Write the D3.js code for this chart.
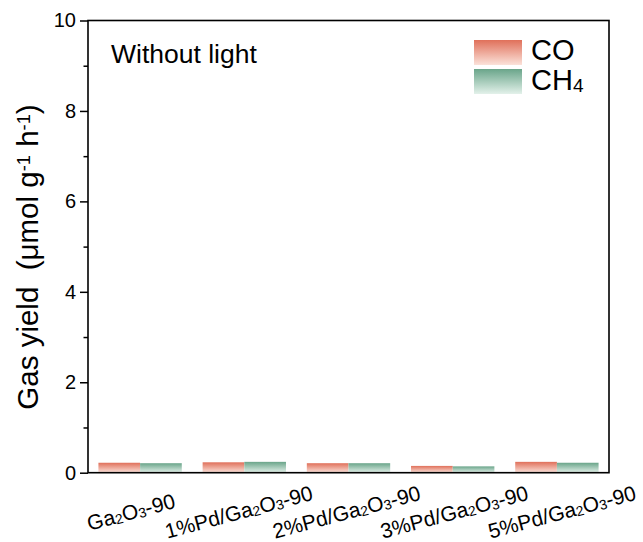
<!DOCTYPE html>
<html><head><meta charset="utf-8">
<script src="https://cdn.jsdelivr.net/npm/d3@7/dist/d3.min.js"></script>
<style>body{margin:0;background:#fff}svg{display:block}text{font-family:"Liberation Sans",Arial,sans-serif;fill:#000}</style>
</head><body>
<svg id="c" width="643" height="542"></svg>
<script>
const categories = ["Ga₂O₃-90","1%Pd/Ga₂O₃-90","2%Pd/Ga₂O₃-90","3%Pd/Ga₂O₃-90","5%Pd/Ga₂O₃-90"];
const seriesNames = ["CO","CH₄"];
const coValues = [0.22,0.23,0.21,0.15,0.24];
const ch4Values = [0.21,0.24,0.21,0.14,0.22];
const majorTicks = [0,2,4,6,8,10];
const minorTicks = [1,3,5,7,9];
const annotation = "Without light";
const yTitle = "Gas yield\u00a0\u00a0(μmol g⁻¹ h⁻¹)";

const svg = d3.select("#c");
const L=88,R=609,T=20.5,B=472.7;
const x = d3.scaleBand().domain(categories).range([L,R]).paddingInner(0.2).paddingOuter(0.1);
const xs = d3.scaleBand().domain(seriesNames).range([0,x.bandwidth()]);
const y = d3.scaleLinear().domain([0,10]).range([B,T]);
const xLab = d3.scalePoint().domain(categories).range([131,562]);

const defs = svg.append("defs");
const grads = [["gCO","#e0705a","#fbe2da"],["gCH4","#6aa58a","#e3f1ea"]];
grads.forEach(([id,c1,c2])=>{
  const g=defs.append("linearGradient").attr("id",id).attr("x1",0).attr("x2",0).attr("y1",0).attr("y2",1);
  g.append("stop").attr("offset","0%").attr("stop-color",c1);
  g.append("stop").attr("offset","100%").attr("stop-color",c2);
});
const fills = ["url(#gCO)","url(#gCH4)"];

function richText(sel, str, size, subScale){
  subScale = subScale||0.62;
  const subMap={"₀":"0","₁":"1","₂":"2","₃":"3","₄":"4"};
  const supMap={"⁻":"-","¹":"1"};
  let buf="", mode="n";
  const flush=()=>{ if(!buf) return;
    const t=sel.append("tspan").text(buf);
    if(mode==="sub"){t.attr("font-size",size*subScale).attr("baseline-shift","-10%");}
    if(mode==="sup"){t.attr("font-size",size*0.62).attr("baseline-shift","45%");}
    buf="";};
  for(const ch of str){
    let m="n", c=ch;
    if(subMap[ch]!==undefined){m="sub";c=subMap[ch];}
    else if(supMap[ch]!==undefined){m="sup";c=supMap[ch];}
    if(m!==mode){flush();mode=m;}
    buf+=c;
  }
  flush();
}

// bars
const data = categories.map((c,i)=>({c, vals:[coValues[i],ch4Values[i]]}));
const grp = svg.append("g").selectAll("g").data(data).join("g").attr("transform",d=>`translate(${x(d.c)},0)`);
grp.selectAll("rect").data(d=>d.vals.map((v,j)=>({v,j}))).join("rect")
  .attr("x",d=>xs(seriesNames[d.j])).attr("width",xs.bandwidth())
  .attr("y",d=>y(d.v)).attr("height",d=>y(0)-y(d.v))
  .attr("fill",d=>fills[d.j]);

// frame
svg.append("rect").attr("x",L).attr("y",T).attr("width",R-L).attr("height",B-T)
  .attr("fill","none").attr("stroke","#000").attr("stroke-width",1.6);

// y axis
const ya = svg.append("g").attr("transform",`translate(${L},0)`)
  .call(d3.axisLeft(y).tickValues(majorTicks).tickSize(8).tickPadding(4).tickFormat(d3.format("d")));
ya.select(".domain").remove();
ya.selectAll("line").attr("stroke","#000").attr("stroke-width",1.5);
ya.selectAll("text").attr("font-size",20).attr("font-family","Liberation Sans, Arial, sans-serif");
const ym = svg.append("g").attr("transform",`translate(${L},0)`)
  .call(d3.axisLeft(y).tickValues(minorTicks).tickSize(4.5).tickFormat(""));
ym.select(".domain").remove();
ym.selectAll("line").attr("stroke","#000").attr("stroke-width",1.5);

// x labels
categories.forEach(c=>{
  const t = svg.append("text").attr("transform",`translate(${xLab(c)},512) rotate(-15)`)
    .attr("text-anchor","middle").attr("dy","0.35em").attr("font-size",21);
  richText(t,c,21,0.66);
});

// y title
const yt = svg.append("text").attr("transform",`translate(38,257) rotate(-90)`)
  .attr("text-anchor","middle").attr("font-size",29.5);
richText(yt,yTitle,29.5);

// annotation
svg.append("text").attr("x",111).attr("y",63).attr("font-size",26.5).text(annotation);

// legend
seriesNames.forEach((s,i)=>{
  svg.append("rect").attr("x",474).attr("y",40+i*29).attr("width",48).attr("height",25).attr("fill",fills[i]);
  const t=svg.append("text").attr("x",531).attr("y",60+i*30).attr("font-size",29);
  richText(t,s,29,0.66);
});
</script>
</body></html>
